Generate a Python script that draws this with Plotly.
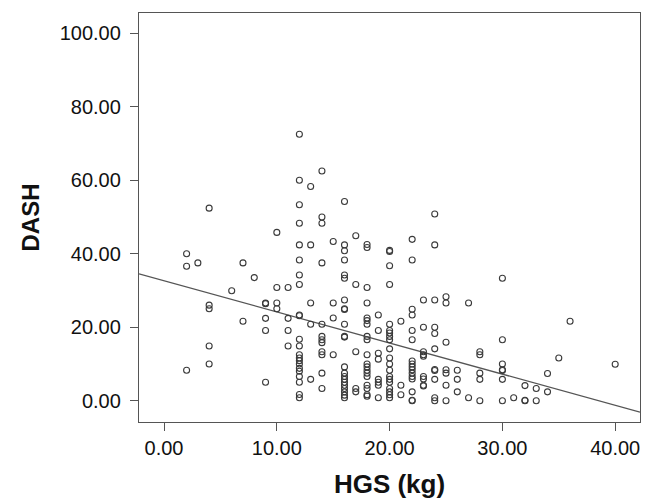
import plotly.graph_objects as go

# HGS (kg) grouped by integer value, DASH scores
hgs_groups = {
    2: [40.0, 36.6, 8.3],
    3: [37.5],
    4: [52.4, 26.0, 25.0, 14.9, 10.0],
    6: [29.9],
    7: [37.5, 21.6],
    8: [33.5],
    9: [26.6, 26.4, 22.4, 19.1, 5.0],
    10: [45.8, 30.8, 26.6, 25.0],
    11: [30.8, 22.4, 19.1, 14.9],
    12: [72.5, 60.0, 53.3, 48.3, 42.4, 38.3, 34.2, 31.6, 23.3, 23.1, 16.7, 14.9,
         12.5, 11.6, 10.9, 10.0, 8.8, 8.0, 6.6, 5.0, 1.7, 0.8],
    13: [58.3, 42.4, 26.6, 20.8, 5.8],
    14: [62.5, 50.0, 48.3, 37.5, 20.8, 17.5, 16.6, 15.8, 13.3, 12.5, 7.5, 3.3],
    15: [43.3, 26.6, 22.5, 12.5],
    16: [54.2, 42.4, 40.8, 38.3, 34.2, 33.3, 27.4, 25.0, 24.8, 20.8, 17.5, 17.3,
         9.2, 7.5, 6.6, 5.8, 5.0, 4.2, 3.3, 2.4, 1.5, 0.8],
    17: [44.9, 31.6, 13.3, 3.3, 2.4],
    18: [42.5, 41.7, 30.8, 26.6, 22.5, 21.8, 20.8, 17.5, 16.6, 12.5, 10.0, 9.2,
         8.3, 7.5, 6.6, 4.2, 3.3, 1.6, 1.2],
    19: [23.3, 19.1, 12.9, 11.3, 5.8, 5.0, 4.2, 0.8],
    20: [40.9, 40.6, 36.7, 31.6, 20.8, 19.1, 18.4, 17.5, 16.6, 14.1, 11.6, 10.0,
         8.3, 6.6, 5.8, 5.0, 3.3, 2.4, 1.6, 0.8],
    21: [21.6, 4.2, 1.6],
    22: [43.9, 38.3, 24.9, 23.3, 19.1, 16.6, 10.8, 10.0, 9.2, 8.4, 7.5, 6.6,
         5.9, 2.4, 0.0, 0.1],
    23: [27.4, 20.0, 13.3, 12.5, 12.1, 6.6, 5.9, 4.2, 4.0],
    24: [50.8, 42.4, 27.4, 20.0, 18.3, 14.1, 8.5, 8.2, 5.8, 0.8, 0.0],
    25: [28.3, 26.6, 15.9, 8.4, 7.5, 4.2, 0.0],
    26: [8.3, 5.8, 2.4],
    27: [26.6, 0.8],
    28: [13.3, 12.5, 7.5, 5.8, 0.0],
    30: [33.3, 16.6, 10.0, 8.4, 8.2, 5.8, 0.0],
    31: [0.8],
    32: [4.1, 0.0, 0.1],
    33: [3.3, 0.0],
    34: [7.4, 2.4],
    35: [11.6],
    36: [21.6],
    40: [9.9],
}

hgs = [x for x, ys in hgs_groups.items() for _ in ys]
dash = [y for ys in hgs_groups.values() for y in ys]

# fitted regression line endpoints
fit_x = [-2.22, 42.2]
fit_y = [34.5, -3.1]

x_ticks = [0, 10, 20, 30, 40]
y_ticks = [0, 20, 40, 60, 80, 100]

FONT = "Liberation Sans, Arial, sans-serif"

fig = go.Figure()
fig.add_trace(go.Scatter(
    x=fit_x, y=fit_y, mode="lines",
    line=dict(color="#555555", width=1.3), hoverinfo="skip", showlegend=False,
))
fig.add_trace(go.Scatter(
    x=hgs, y=dash, mode="markers",
    marker=dict(symbol="circle-open", size=6, color="#3a3a3a", line=dict(width=1.1)),
    showlegend=False,
))

axis_common = dict(
    showgrid=False, zeroline=False, showline=True, mirror=True, automargin=False,
    linecolor="#555555", linewidth=1.3, ticks="outside", ticklen=8,
    tickcolor="#555555", tickwidth=1.3, tickformat=".2f",
    tickfont=dict(family=FONT, size=20, color="#111111"),
)

fig.update_layout(
    width=648, height=499,
    margin=dict(l=139, r=8, t=13, b=77),
    paper_bgcolor="white", plot_bgcolor="white",
    xaxis=dict(range=[-2.22, 42.2], tickvals=x_ticks,
               title=dict(text="<b>HGS (kg)</b>", standoff=17,
                          font=dict(family=FONT, size=26, color="#111111")),
               **axis_common),
    yaxis=dict(range=[-5.8, 105.5], tickvals=y_ticks, ticklabelstandoff=5,
               title=dict(text="<b>DASH</b>", standoff=13,
                          font=dict(family=FONT, size=24, color="#111111")),
               **axis_common),
)

fig.write_html(
    "out.html",
    config={"displayModeBar": False},
    post_script="document.body.style.margin='0';document.body.style.overflow='hidden';",
)
